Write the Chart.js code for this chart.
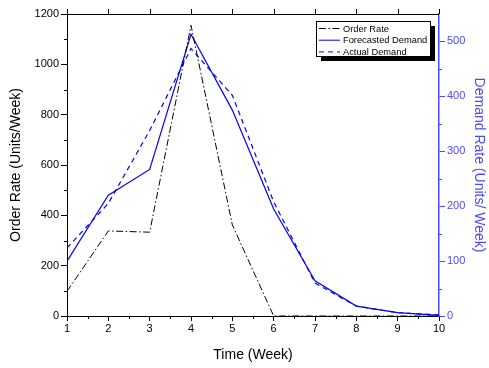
<!DOCTYPE html>
<html>
<head>
<meta charset="utf-8">
<script src="https://cdn.jsdelivr.net/npm/chart.js@4"></script>
<style>
  html, body { margin: 0; padding: 0; background: #fff; }
  #wrap { width: 489px; height: 368px; }
</style>
</head>
<body>
<div id="wrap"><canvas id="chart" width="489" height="368"></canvas></div>
<script>
const weeks = [1, 2, 3, 4, 5, 6, 7, 8, 9, 10];
const orderRate = [98, 338, 333, 1155, 362, 0, 0, 0, 0, 0];
const forecastDemand = [100, 220, 267, 513, 375, 195, 64, 18, 6, 1];
const actualDemand = [124, 205, 338, 487, 402, 208, 60, 18, 6, 2];
const leftTicks = [0, 200, 400, 600, 800, 1000, 1200];
const rightTicks = [0, 100, 200, 300, 400, 500];

const BLUE = '#0000ff';
const AXIS_BLUE = '#4a4aff';
const FONT = 'Liberation Sans, Arial, sans-serif';

const pts = arr => weeks.map((w, i) => ({ x: w, y: arr[i] }));
const plain = v => String(v);

// minor ticks, top axis ticks and frame (Origin-style)
const frameTicks = {
  id: 'frameTicks',
  afterDraw(chart) {
    const { ctx, chartArea: a } = chart;
    const x = chart.scales.x, y = chart.scales.y, y1 = chart.scales.y1;
    ctx.save();
    ctx.lineWidth = 1;
    ctx.strokeStyle = '#000';
    ctx.beginPath();
    ctx.moveTo(a.left, a.top + 0.5); ctx.lineTo(a.right, a.top + 0.5);
    for (let v = 1; v <= 10; v += 0.5) {
      const px = Math.round(x.getPixelForValue(v)) + 0.5;
      if (Number.isInteger(v)) { ctx.moveTo(px, a.top); ctx.lineTo(px, a.top - 5); }
      else { ctx.moveTo(px, a.bottom); ctx.lineTo(px, a.bottom + 3); }
    }
    for (let v = 100; v < 1200; v += 200) {
      const py = Math.round(y.getPixelForValue(v)) + 0.5;
      ctx.moveTo(a.left, py); ctx.lineTo(a.left - 3, py);
    }
    ctx.stroke();
    ctx.strokeStyle = AXIS_BLUE;
    ctx.beginPath();
    for (let v = 50; v < 550; v += 100) {
      const py = Math.round(y1.getPixelForValue(v)) + 0.5;
      ctx.moveTo(a.right, py); ctx.lineTo(a.right + 3, py);
    }
    ctx.stroke();
    ctx.restore();
  }
};

const boxLegend = {
  id: 'boxLegend',
  afterDraw(chart) {
    const ctx = chart.ctx;
    const bx = 316, by = 21, bw = 114, bh = 35;
    ctx.save();
    ctx.fillStyle = '#000';
    ctx.fillRect(bx + 5, by + 5, bw, bh);
    ctx.fillStyle = '#fff';
    ctx.fillRect(bx, by, bw, bh);
    ctx.strokeStyle = '#000';
    ctx.lineWidth = 1;
    ctx.strokeRect(bx + 0.5, by + 0.5, bw, bh);
    ctx.font = '9.3px ' + FONT;
    ctx.textBaseline = 'middle';
    chart.data.datasets.forEach((ds, i) => {
      const ry = by + 7.5 + i * 11.7;
      ctx.strokeStyle = ds.borderColor;
      ctx.lineWidth = 1;
      ctx.setLineDash(ds.borderDash || []);
      ctx.beginPath();
      ctx.moveTo(bx + 3, ry); ctx.lineTo(bx + 24, ry);
      ctx.stroke();
      ctx.setLineDash([]);
      ctx.fillStyle = '#000';
      ctx.fillText(ds.label, bx + 27, ry + 0.5);
    });
    ctx.restore();
  }
};

new Chart(document.getElementById('chart'), {
  type: 'line',
  data: {
    datasets: [
      {
        label: 'Order Rate',
        data: pts(orderRate),
        yAxisID: 'y',
        borderColor: '#000',
        borderWidth: 1,
        borderDash: [7, 2.5, 1.5, 2.5],
        pointRadius: 0,
        tension: 0
      },
      {
        label: 'Forecasted Demand',
        data: pts(forecastDemand),
        yAxisID: 'y1',
        borderColor: BLUE,
        borderWidth: 1.2,
        pointRadius: 0,
        tension: 0
      },
      {
        label: 'Actual Demand',
        data: pts(actualDemand),
        yAxisID: 'y1',
        borderColor: BLUE,
        borderWidth: 1.2,
        borderDash: [5, 4],
        pointRadius: 0,
        tension: 0
      }
    ]
  },
  options: {
    responsive: false,
    animation: false,
    layout: { padding: { top: 14 } },
    plugins: { legend: { display: false }, tooltip: { enabled: false } },
    scales: {
      x: {
        type: 'linear',
        min: 1, max: 10,
        afterBuildTicks: s => { s.ticks = weeks.map(v => ({ value: v })); },
        afterFit: s => { s.height = 52; },
        ticks: { color: '#000', font: { family: FONT, size: 11 }, padding: 1, maxRotation: 0, callback: plain },
        grid: { drawOnChartArea: false, color: '#000', tickLength: 5 },
        border: { color: '#000' },
        title: { display: true, text: 'Time (Week)', color: '#000', font: { family: FONT, size: 14 }, padding: { top: 6, bottom: 4 } }
      },
      y: {
        position: 'left',
        min: 0, max: 1200,
        afterBuildTicks: s => { s.ticks = leftTicks.map(v => ({ value: v })); },
        afterFit: s => { s.width = 67; },
        ticks: { color: '#000', font: { family: FONT, size: 11 }, padding: 2, callback: plain },
        grid: { drawOnChartArea: false, color: '#000', tickLength: 6 },
        border: { color: '#000' },
        title: { display: true, text: 'Order Rate (Units/Week)', color: '#000', font: { family: FONT, size: 14 }, padding: { top: 8, bottom: 0 } }
      },
      y1: {
        position: 'right',
        min: 0, max: 550,
        afterBuildTicks: s => { s.ticks = rightTicks.map(v => ({ value: v })); },
        afterFit: s => { s.width = 50; },
        ticks: { color: AXIS_BLUE, font: { family: FONT, size: 11 }, padding: 2, callback: plain },
        grid: { drawOnChartArea: false, color: AXIS_BLUE, tickLength: 6 },
        border: { color: AXIS_BLUE, width: 1.5 },
        title: { display: true, text: 'Demand Rate (Units/ Week)', color: AXIS_BLUE, font: { family: FONT, size: 14 }, padding: { top: 2, bottom: 0 } }
      }
    }
  },
  plugins: [frameTicks, boxLegend]
});
</script>
</body>
</html>
